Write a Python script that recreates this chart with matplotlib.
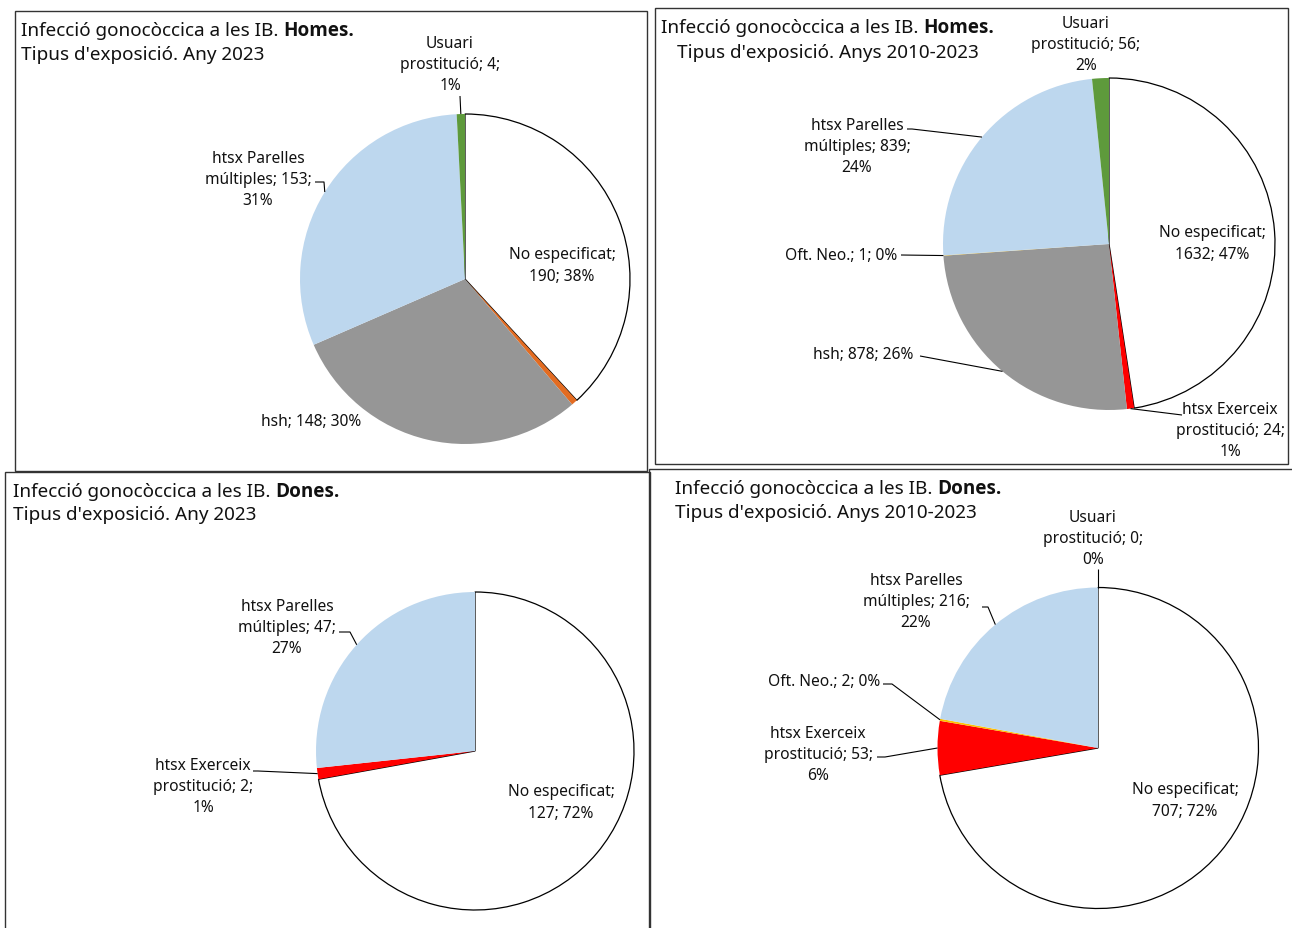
import matplotlib
matplotlib.use('Agg')
import matplotlib.pyplot as plt
import numpy as np
from matplotlib.patches import Rectangle
from matplotlib import font_manager as fm

plt.rcParams['font.family'] = ['Noto Sans', 'DejaVu Sans']

W, H = 1292, 929

# ---------------- DATA ----------------
title_main = "Infecció gonocòccica a les IB."
sex_labels = ["Homes.", "Homes.", "Dones.", "Dones."]
subtitles = ["Tipus d'exposició. Any 2023", "Tipus d'exposició. Anys 2010-2023",
             "Tipus d'exposició. Any 2023", "Tipus d'exposició. Anys 2010-2023"]

cats_h23 = ["No especificat", "htsx Exerceix prostitució", "hsh", "htsx Parelles múltiples", "Usuari prostitució"]
vals_h23 = [190, 3, 148, 153, 4]
pcts_h23 = ["38%", "1%", "30%", "31%", "1%"]

cats_hall = ["No especificat", "htsx Exerceix prostitució", "hsh", "Oft. Neo.", "htsx Parelles múltiples", "Usuari prostitució"]
vals_hall = [1632, 24, 878, 1, 839, 56]
pcts_hall = ["47%", "1%", "26%", "0%", "24%", "2%"]

cats_d23 = ["No especificat", "htsx Exerceix prostitució", "htsx Parelles múltiples"]
vals_d23 = [127, 2, 47]
pcts_d23 = ["72%", "1%", "27%"]

cats_dall = ["No especificat", "htsx Exerceix prostitució", "Oft. Neo.", "htsx Parelles múltiples", "Usuari prostitució"]
vals_dall = [707, 53, 2, 216, 0]
pcts_dall = ["72%", "6%", "0%", "22%", "0%"]

# ---------------- STYLE ----------------
COL = {"No especificat": "#FFFFFF", "htsx Exerceix prostitució": "#FF0000", "hsh": "#969696",
       "Oft. Neo.": "#FFC000", "htsx Parelles múltiples": "#BDD7EE", "Usuari prostitució": "#5E9A3C"}
ORANGE = "#E36C22"
single_line = {"hsh", "Oft. Neo."}

FS_T = 13.6
FS_L = 11.2
TXT = "#111111"

# find a bold face
bold_fp = None
for fam in ["Noto Sans", "Open Sans", "Lato", "DejaVu Sans"]:
    try:
        fp = fm.FontProperties(family=fam, weight='bold')
        path = fm.findfont(fp, fallback_to_default=False)
        if 'bold' in path.lower():
            bold_fp = fm.FontProperties(fname=path, size=FS_T)
            break
    except Exception:
        pass
if bold_fp is None:
    bold_fp = fm.FontProperties(family='DejaVu Sans', weight='bold', size=FS_T)

fig = plt.figure(figsize=(W / 100, H / 100), dpi=100)
ax = fig.add_axes([0, 0, 1, 1])
renderer = fig.canvas.get_renderer()


def Y(y):
    return H - y


def fmt_label(cat, val, pct):
    if cat == "No especificat":
        return f"{cat};\n{val}; {pct}"
    if cat in single_line:
        return f"{cat}; {val}; {pct}"
    words = cat.split(" ")
    return f"{' '.join(words[:-1])}\n{words[-1]}; {val};\n{pct}"


def draw_title(x1, y1, x2, y2, sex, sub):
    t = ax.text(x1, Y(y1), title_main, fontsize=FS_T, color=TXT, ha='left', va='center')
    bb = t.get_window_extent(renderer)
    sp = FS_T * 1.389 * 0.26
    ax.text(x1 + bb.width + sp, Y(y1), sex, color=TXT, ha='left', va='center',
            fontproperties=bold_fp)
    ax.text(x2, Y(y2), sub, fontsize=FS_T, color=TXT, ha='left', va='center')


def draw_pie(center, r, cats, vals, pcts, colors, layout):
    cx, cy = center
    wedges, _ = ax.pie(vals, colors=colors, startangle=90, counterclock=False,
                       center=(cx, Y(cy)), radius=r, wedgeprops=dict(linewidth=0))
    for w, c in zip(wedges, cats):
        if c == "No especificat":
            w.set_edgecolor("black")
            w.set_linewidth(0.9)
    tot = float(sum(vals))
    cum = np.cumsum([0] + list(vals))
    for i, (c, v, p) in enumerate(zip(cats, vals, pcts)):
        if i not in layout:
            continue
        lx, ly, pts = layout[i]
        ax.text(lx, Y(ly), fmt_label(c, v, p), fontsize=FS_L, color=TXT, ha='center',
                va='center', multialignment='center', linespacing=1.45)
        if pts:
            th = np.deg2rad(360.0 * (cum[i] + v / 2.0) / tot)
            sx, sy = cx + r * np.sin(th), cy - r * np.cos(th)
            xs = [sx] + [p_[0] for p_ in pts]
            ys = [Y(sy)] + [Y(p_[1]) for p_ in pts]
            ax.plot(xs, ys, color="black", lw=0.8, solid_capstyle='butt')


# ---- frames ----
frames = [(15, 12, 647, 472), (655, 9, 1288, 465), (5, 473, 650, 960), (649, 470, 1300, 960)]
for (x0, y0, x1, y1) in frames:
    ax.add_patch(Rectangle((x0, Y(y1)), x1 - x0, y1 - y0, fill=False, edgecolor="#333333", lw=1.0))

# ---- panel 1: Homes 2023 ----
draw_title(21, 31, 21, 55, sex_labels[0], subtitles[0])
cols1 = [COL[c] for c in cats_h23]
cols1[1] = ORANGE
draw_pie((465, 280), 165, cats_h23, vals_h23, pcts_h23, cols1,
         {0: (562, 266, None),
          2: (311, 422, None),
          3: (258, 180, [(324, 183), (315, 183)]),
          4: (450, 65, [(460, 97)])})

# ---- panel 2: Homes 2010-2023 ----
draw_title(661, 28, 677, 53, sex_labels[1], subtitles[1])
draw_pie((1109, 245), 166, cats_hall, vals_hall, pcts_hall, [COL[c] for c in cats_hall],
         {0: (1212, 244, None),
          1: (1230, 431, [(1182, 416)]),
          2: (863, 355, [(920, 357)]),
          3: (841, 256, [(901, 256)]),
          4: (857, 147, [(912, 130), (907, 130)]),
          5: (1086, 45, None)})

# ---- panel 3: Dones 2023 ----
draw_title(13, 492, 13, 515, sex_labels[2], subtitles[2])
draw_pie((475, 752), 159, cats_d23, vals_d23, pcts_d23, [COL[c] for c in cats_d23],
         {0: (561, 803, None),
          1: (203, 787, [(258, 772), (253, 772)]),
          2: (287, 628, [(350, 633), (339, 633)])})

# ---- panel 4: Dones 2010-2023 ----
draw_title(675, 489, 675, 513, sex_labels[3], subtitles[3])
draw_pie((1098, 749), 160.5, cats_dall, vals_dall, pcts_dall, [COL[c] for c in cats_dall],
         {0: (1185, 801, None),
          1: (818, 755, [(885, 758), (877, 758)]),
          2: (824, 682, [(892, 685), (883, 685)]),
          3: (916, 602, [(988, 608), (982, 608)]),
          4: (1093, 539, [(1098, 570)])})

ax.set_xlim(0, W)
ax.set_ylim(0, H)
ax.set_aspect('auto')
ax.axis('off')
fig.savefig("out.png", dpi=100, facecolor="white")
